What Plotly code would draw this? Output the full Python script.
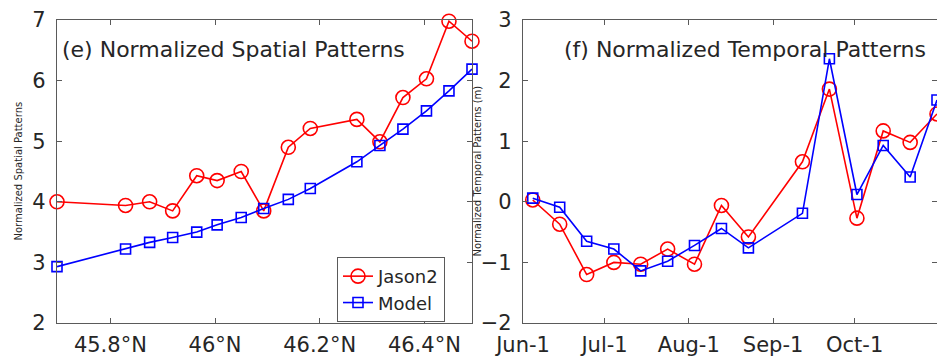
import plotly.graph_objects as go

# ---- data: left panel (spatial) ----
lat = [45.698, 45.829, 45.875, 45.919, 45.965, 46.004, 46.050, 46.093,
       46.140, 46.182, 46.271, 46.315, 46.359, 46.404, 46.447, 46.491]
spatial_jason2 = [4.00, 3.94, 4.00, 3.85, 4.43, 4.35, 4.50, 3.85,
                  4.90, 5.21, 5.36, 4.99, 5.72, 6.03, 6.98, 6.65]
spatial_model = [2.93, 3.22, 3.33, 3.41, 3.50, 3.62, 3.74, 3.89,
                 4.04, 4.22, 4.66, 4.93, 5.20, 5.50, 5.83, 6.19]
lat_tickvals = [45.8, 46.0, 46.2, 46.4]
lat_ticktext = ["45.8°N", "46°N", "46.2°N", "46.4°N"]

# ---- data: right panel (temporal) ----
dates = ["2013-06-04 14:00", "2013-06-14 12:00", "2013-06-24 10:00", "2013-07-04 10:00",
         "2013-07-14 07:00", "2013-07-24 05:00", "2013-08-03 02:00", "2013-08-13 00:00",
         "2013-08-22 22:00", "2013-09-11 19:00", "2013-09-21 17:00", "2013-10-01 20:00",
         "2013-10-11 12:00", "2013-10-21 10:00", "2013-10-31 07:00"]
temporal_jason2 = [0.03, -0.37, -1.20, -1.00, -1.03, -0.78, -1.03, -0.06,
                   -0.58, 0.66, 1.86, -0.27, 1.17, 0.98, 1.45]
temporal_model = [0.06, -0.09, -0.65, -0.78, -1.14, -0.98, -0.72, -0.44,
                  -0.76, -0.19, 2.36, 0.12, 0.93, 0.41, 1.68]
date_tickvals = ["2013-06-01", "2013-07-01", "2013-08-01", "2013-09-01", "2013-10-01"]
date_ticktext = ["Jun-1", "Jul-1", "Aug-1", "Sep-1", "Oct-1"]

FONT = "DejaVu Sans"
RED = "#ff0000"
BLUE = "#0000ff"
AX = "#5a5a5a"
TXT = "#262626"

W, H = 937, 349

fig = go.Figure()

def add(x, y, color, symbol, size, name, xa, ya, show):
    fig.add_trace(go.Scatter(
        x=x, y=y, mode="lines+markers", name=name, showlegend=show,
        line=dict(color=color, width=1.6),
        marker=dict(symbol=symbol, size=size, color=color,
                    line=dict(color=color, width=1.6)),
        xaxis=xa, yaxis=ya, cliponaxis=False))

add(lat, spatial_jason2, RED, "circle-open", 14, "Jason2", "x", "y", True)
add(lat, spatial_model, BLUE, "square-open", 10, "Model", "x", "y", True)
add(dates, temporal_jason2, RED, "circle-open", 14, "Jason2", "x2", "y2", False)
add(dates, temporal_model, BLUE, "square-open", 10, "Model", "x2", "y2", False)

axis_common = dict(showline=True, mirror="ticks", linecolor=AX, linewidth=1.2,
                   ticks="inside", ticklen=5, tickcolor=AX, showgrid=False,
                   zeroline=False, automargin=False,
                   tickfont=dict(family=FONT, size=21, color=TXT))

fig.update_layout(
    width=W, height=H,
    margin=dict(l=0, r=0, t=12, b=34),
    paper_bgcolor="white", plot_bgcolor="white",
    xaxis=dict(domain=[49 / W, 464 / W], range=[min(lat), max(lat)],
               tickvals=lat_tickvals, ticktext=lat_ticktext, anchor="y",
               ticklabelstandoff=3, **axis_common),
    yaxis=dict(domain=[0, 1], range=[2, 7], dtick=1, anchor="x",
               ticklabelstandoff=6, **axis_common),
    xaxis2=dict(domain=[515 / W, 929 / W], type="date",
                range=["2013-06-01", "2013-10-31 07:00"],
                tickvals=date_tickvals, ticktext=date_ticktext, anchor="y2",
                ticklabelstandoff=3, **axis_common),
    yaxis2=dict(domain=[0, 1], range=[-2, 3], dtick=1, anchor="x2",
                ticklabelstandoff=6, **axis_common),
    legend=dict(x=329 / W, y=0.218, xanchor="left", yanchor="top",
                bgcolor="white", bordercolor=AX, borderwidth=1,
                font=dict(family=FONT, size=18, color=TXT),
                itemwidth=30, tracegroupgap=0),
    font=dict(family=FONT),
)

annots = [
    dict(text="(e) Normalized Spatial Patterns", x=52 / W, y=0.901, xref="paper", yref="paper",
         xanchor="left", yanchor="middle", showarrow=False,
         font=dict(family=FONT, size=22, color=TXT)),
    dict(text="(f) Normalized Temporal Patterns", x=554 / W, y=0.901, xref="paper", yref="paper",
         xanchor="left", yanchor="middle", showarrow=False,
         font=dict(family=FONT, size=22, color=TXT)),
    dict(text="Normalized Spatial Patterns", x=10 / W, y=0.5, xref="paper", yref="paper",
         xanchor="center", yanchor="middle", textangle=-90, showarrow=False,
         font=dict(family=FONT, size=10, color=TXT)),
    dict(text="Normalized Temporal Patterns (m)", x=469 / W, y=0.5, xref="paper", yref="paper",
         xanchor="center", yanchor="middle", textangle=-90, showarrow=False,
         font=dict(family=FONT, size=10, color=TXT)),
]
fig.update_layout(annotations=annots)

fig.write_html("out.html")
